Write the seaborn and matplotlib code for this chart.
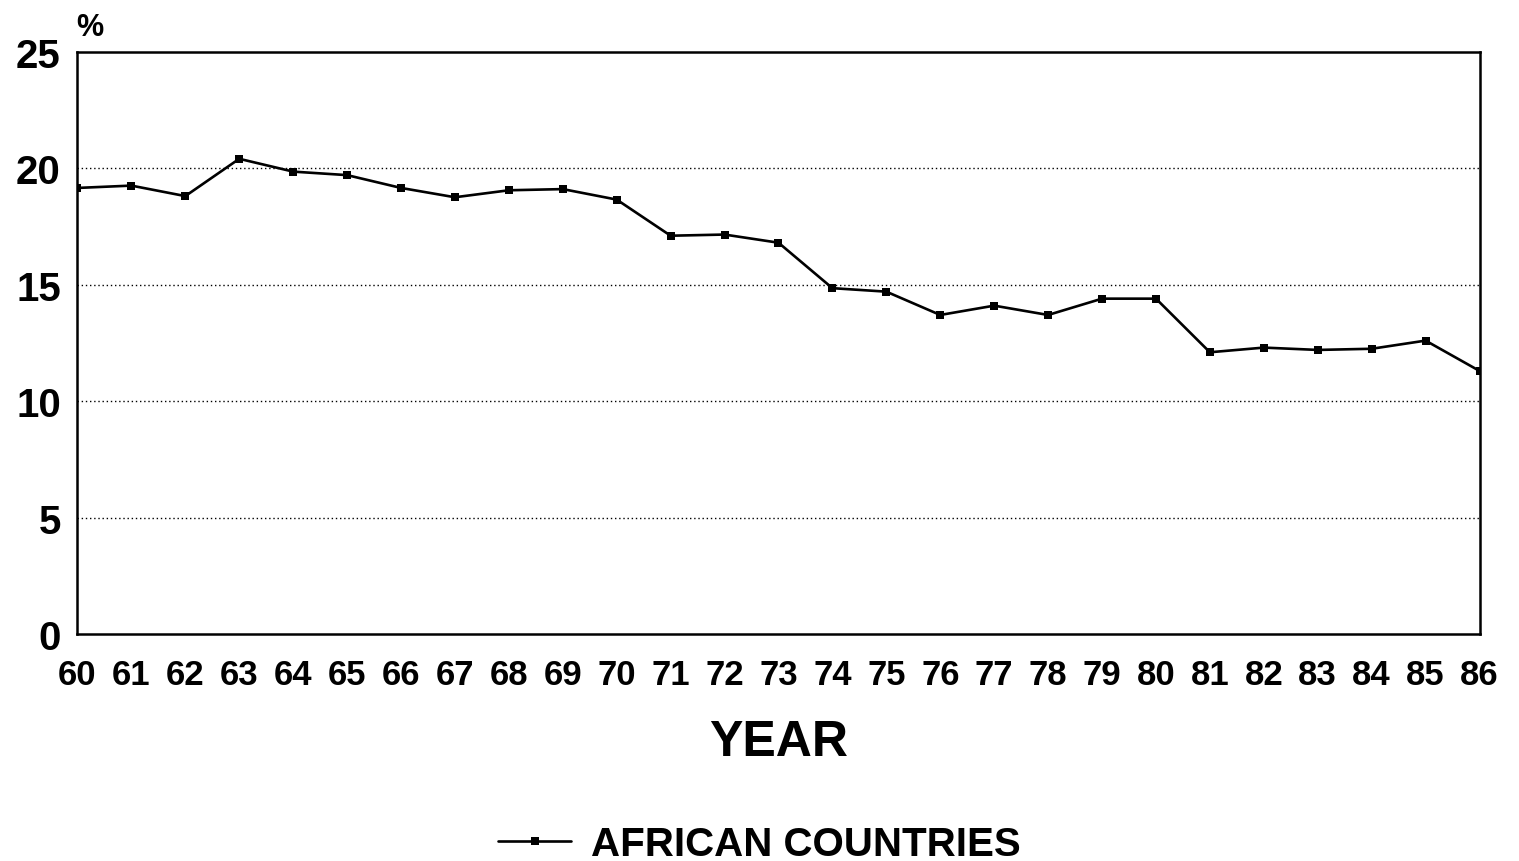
import matplotlib
matplotlib.use("Agg")
import matplotlib.pyplot as plt
import seaborn as sns
import pandas as pd

years = list(range(1960, 1987))
year_labels = [str(y % 100) for y in years]
african = [19.15, 19.25, 18.8, 20.4, 19.85, 19.7, 19.15, 18.75, 19.05, 19.1, 18.65,
           17.1, 17.15, 16.8, 14.85, 14.7, 13.7, 14.1, 13.7, 14.4, 14.4,
           12.1, 12.3, 12.2, 12.25, 12.6, 11.3]
series_name = "AFRICAN COUNTRIES"
yticks = [0, 5, 10, 15, 20, 25]

df = pd.DataFrame({"year": years, "value": african, "series": series_name})

sns.set_theme(style="white")
plt.rcParams["font.family"] = ["Liberation Sans", "DejaVu Sans"]
plt.rcParams["text.color"] = "black"

fig = plt.figure(figsize=(15.19, 8.62), dpi=100)
ax = fig.add_axes([0.051, 0.263, 0.923, 0.676])

sns.lineplot(data=df, x="year", y="value", hue="series", palette=["black"],
             marker="s", markersize=6, linewidth=1.9, markeredgewidth=0, ax=ax)

ax.set_xlim(1960, 1986)
ax.set_ylim(0, 25)
ax.set_yticks(yticks)
ax.set_yticklabels([str(t) for t in yticks], fontsize=29, fontweight="bold")
ax.set_xticks(years)
ax.set_xticklabels(year_labels, fontsize=25, fontweight="bold")
ax.tick_params(axis="x", direction="in", length=12, width=1.5, pad=17, colors="black")
ax.tick_params(axis="y", direction="in", length=12, width=1.5, pad=12, colors="black")
for t in [5, 10, 15, 20]:
    ax.axhline(t, color="black", linestyle=(0, (1, 2)), linewidth=1.0, zorder=0)
for s in ax.spines.values():
    s.set_color("black")
    s.set_linewidth(1.8)
ax.set_xlabel("YEAR", fontsize=36, fontweight="bold", labelpad=20, color="black")
ax.set_ylabel("")
fig.text(0.059, 0.967, "%", fontsize=22, fontweight="bold", ha="center", va="center",
         color="black")

ax.get_legend().remove()
handles, labels = ax.get_legend_handles_labels()
fig.legend(handles, labels, loc="center", bbox_to_anchor=(0.5, 0.02), frameon=False,
           prop={"size": 29, "weight": "bold"}, handlelength=1.8, handletextpad=0.5,
           labelcolor="black")

fig.savefig("out.png", dpi=100, facecolor="white")
